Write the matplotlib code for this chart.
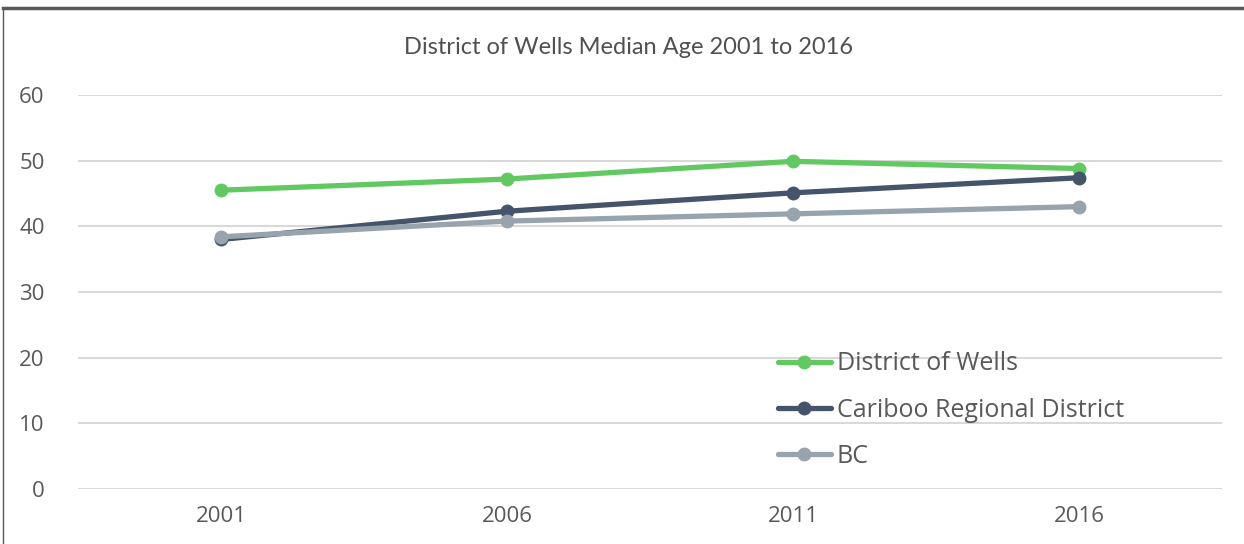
import matplotlib.pyplot as plt
from matplotlib.lines import Line2D
import numpy as np

# data
years = ['2001', '2006', '2011', '2016']
wells = [45.5, 47.2, 49.9, 48.8]
cariboo = [38.0, 42.3, 45.1, 47.4]
bc = [38.4, 40.8, 41.9, 43.0]

seriesNames = ['District of Wells', 'Cariboo Regional District', 'BC']
seriesColors = ['#62C962', '#44546A', '#97A3AD']

fig = plt.figure(figsize=(12.44, 5.44), dpi=100)
ax = fig.add_axes([78/1244, 55/544, 1144/1244, 394/544])

x = np.arange(len(years))
for vals, name, col in zip([wells, cariboo, bc], seriesNames, seriesColors):
    ax.plot(x, vals, color=col, linewidth=3.8, marker='o', markersize=9,
            label=name, solid_capstyle='round')

ax.set_xlim(-0.5, 3.5)
ax.set_ylim(0, 60)
ax.set_yticks(np.arange(0, 61, 10))
ax.set_xticks(x)
ax.set_xticklabels(years)
ax.yaxis.grid(True, color='#D9D9D9', linewidth=1.5)
ax.set_axisbelow(True)
for s in ax.spines.values():
    s.set_visible(False)
ax.tick_params(length=0, labelsize=16, labelcolor='#595959')
for lab in ax.get_xticklabels() + ax.get_yticklabels():
    lab.set_family('Open Sans')
ax.tick_params(axis='y', pad=24)
ax.tick_params(axis='x', pad=12)

leg = ax.legend(loc='center left', bbox_to_anchor=(0.612, 0.2), frameon=False,
                prop={'family': 'Open Sans', 'size': 18}, handlelength=2.1,
                handletextpad=0.25, labelspacing=0.85, labelcolor='#595959',
                borderpad=0, borderaxespad=0)

fig.text(629/1244, 1 - 47/544, 'District of Wells Median Age 2001 to 2016',
         ha='center', va='center', fontsize=17, color='#505050', family='Lato')

# frame edges visible in the reference (top and left)
fig.add_artist(Line2D([3/1244, 1], [1 - 8/544, 1 - 8/544], color='#595959', linewidth=2.5))
fig.add_artist(Line2D([3/1244, 3/1244], [0, 1 - 8/544], color='#595959', linewidth=1))

plt.savefig('out.png', dpi=100)
